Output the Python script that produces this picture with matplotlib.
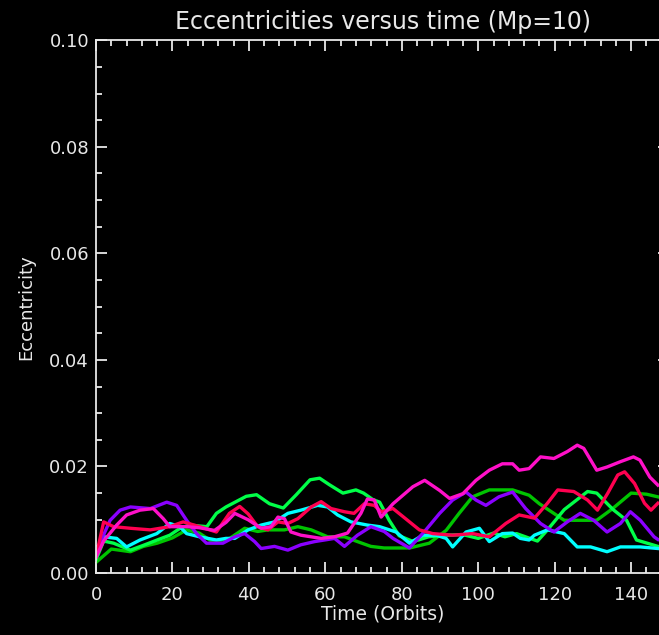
import matplotlib
matplotlib.use("Agg")
import matplotlib.pyplot as plt
from matplotlib.ticker import MultipleLocator

# values (time in orbits, eccentricity)
t_dkgreen = [0, 4, 9, 12.4, 16, 20, 23.7, 27, 30.6, 35, 38.9, 42.3, 45, 49.3, 52.8, 56.3,
             60.6, 65, 68.4, 71.9, 75.4, 82, 87.2, 91.6, 95, 98.5, 102.9, 109, 113.3, 116,
             122.5, 131, 135, 140, 144, 147]
e_dkgreen = [0.002, 0.0045, 0.004, 0.005, 0.0056, 0.0066, 0.0081, 0.0075, 0.0058, 0.0065,
             0.0084, 0.0078, 0.0081, 0.0081, 0.0087, 0.0081, 0.0068, 0.0068, 0.0059, 0.005,
             0.0047, 0.0047, 0.0056, 0.008, 0.0112, 0.0143, 0.0156, 0.0156, 0.0146, 0.013,
             0.0099, 0.0099, 0.012, 0.015, 0.0148, 0.0143]

t_green = [0, 2, 4.6, 9, 12.4, 16, 19.3, 22, 24.5, 29, 31.5, 34, 39.3, 42, 45.4, 49, 52.4,
           56, 58.5, 61, 64.6, 68, 70, 72.4, 74.2, 76.7, 79.3, 83, 87, 91.6, 96, 100, 104,
           107, 110, 115.5, 118, 122.5, 128.6, 131, 135.3, 138.8, 141.4, 147]
e_green = [0.0025, 0.006, 0.0056, 0.0043, 0.0052, 0.0062, 0.0071, 0.0084, 0.009, 0.0087,
           0.0112, 0.0124, 0.0144, 0.0147, 0.013, 0.0122, 0.0147, 0.0175, 0.0178, 0.0166,
           0.015, 0.0156, 0.015, 0.0138, 0.0133, 0.0099, 0.007, 0.0059, 0.0068, 0.0071,
           0.0072, 0.0065, 0.0075, 0.0068, 0.0074, 0.006, 0.008, 0.0119, 0.0153, 0.015,
           0.0119, 0.0099, 0.0062, 0.005]

t_cyan = [0, 2, 5.4, 8, 11.5, 15.9, 19.3, 21.9, 23.7, 27.1, 31.5, 34, 36.3, 39.8, 43.2,
          46.7, 50.2, 53.6, 58, 60.6, 63.2, 66.7, 71, 74.2, 78.5, 82, 85.5, 89, 91.6, 93.3,
          96.8, 100.3, 102.9, 106.3, 109, 111, 113.3, 114.7, 118.1, 122.5, 125.9, 129.4,
          133.7, 137.2, 142.4, 147]
e_cyan = [0.003, 0.0068, 0.0065, 0.0049, 0.0062, 0.0074, 0.0093, 0.0087, 0.0074, 0.0068,
          0.0062, 0.0065, 0.0065, 0.0081, 0.009, 0.0096, 0.0112, 0.0118, 0.0127, 0.0124,
          0.0109, 0.0096, 0.009, 0.0087, 0.0077, 0.0056, 0.0071, 0.0071, 0.0065, 0.0049,
          0.0077, 0.0084, 0.0059, 0.0074, 0.0075, 0.0065, 0.0062, 0.0071, 0.0081, 0.0074,
          0.0049, 0.0049, 0.004, 0.0049, 0.0049, 0.0046]

t_purple = [0, 3.7, 6.3, 9, 14.2, 18.5, 21.1, 23.7, 26.3, 28.9, 33.2, 36.3, 38.9, 41.5,
            43.2, 46.7, 50.2, 53.6, 57.2, 62.4, 65, 68.4, 71.9, 75.4, 77.7, 82, 86.3, 89.9,
            93.3, 96.8, 99.4, 102, 105.4, 109, 112.4, 116.3, 119.8, 123.3, 126.7, 130.2,
            133.7, 137.2, 139.8, 142.4, 146, 147]
e_purple = [0.004, 0.0099, 0.0118, 0.0124, 0.0121, 0.0133, 0.0127, 0.0099, 0.0074, 0.0056,
            0.0056, 0.0068, 0.0074, 0.0059, 0.0046, 0.005, 0.0043, 0.0053, 0.0059, 0.0065,
            0.005, 0.0071, 0.0087, 0.0078, 0.0065, 0.0047, 0.0081, 0.0112, 0.0137, 0.0152,
            0.0137, 0.0127, 0.0143, 0.0152, 0.0121, 0.0093, 0.0077, 0.0096, 0.0112, 0.0099,
            0.0077, 0.0093, 0.0115, 0.0099, 0.0068, 0.0063]

t_red = [0, 2, 4.6, 9, 14.2, 19.3, 22.8, 27.1, 31.5, 34.9, 37.6, 39.8, 42.3, 45, 47.6, 50.2,
         52.8, 56.3, 58.9, 61.5, 65, 67.5, 70.2, 72.8, 74.6, 77.7, 80.3, 84.6, 88.1, 93.3,
         98.5, 102.9, 107.2, 110.7, 114.7, 118.1, 120.8, 125, 128.6, 131.2, 133.9, 136.5,
         138.3, 140.9, 143.5, 145.2, 147]
e_red = [0.003, 0.0096, 0.0087, 0.0084, 0.0081, 0.0087, 0.0096, 0.0087, 0.0077, 0.0112,
         0.0125, 0.0111, 0.0087, 0.0081, 0.0096, 0.0093, 0.0102, 0.0124, 0.0134, 0.0121,
         0.0115, 0.0112, 0.013, 0.0127, 0.0115, 0.0121, 0.0106, 0.0081, 0.0074, 0.0071,
         0.0074, 0.0068, 0.0093, 0.0109, 0.0103, 0.0131, 0.0156, 0.0153, 0.0137, 0.0118,
         0.015, 0.0184, 0.019, 0.0168, 0.0131, 0.0118, 0.0131]

t_magenta = [0, 2, 5.4, 8, 11.5, 15, 17.6, 19.3, 23.7, 27, 31, 34, 36.3, 39.8, 43.2, 45.8,
             47.6, 49.3, 51, 53.6, 58.9, 62.4, 65.8, 69.3, 71, 72.8, 74.6, 77.7, 82.9, 86,
             89.9, 92.5, 96, 99.4, 102.9, 106.3, 109, 110.7, 113.3, 116.3, 119.8, 123.3,
             125.9, 127.6, 131, 133.7, 137.2, 140.6, 142.3, 144.9, 147]
e_magenta = [0.003, 0.006, 0.009, 0.0109, 0.0118, 0.0121, 0.0102, 0.0087, 0.0087, 0.0085,
             0.008, 0.0095, 0.0112, 0.01, 0.0084, 0.0087, 0.0105, 0.0102, 0.0077, 0.0071,
             0.0065, 0.0068, 0.0075, 0.0112, 0.0139, 0.0137, 0.0105, 0.013, 0.0162, 0.0174,
             0.0155, 0.014, 0.0149, 0.0174, 0.0193, 0.0205, 0.0205, 0.0193, 0.0196, 0.0218,
             0.0215, 0.0228, 0.024, 0.0234, 0.0193, 0.0199, 0.0209, 0.0218, 0.0212, 0.018,
             0.0165]

series = [
    (t_dkgreen, e_dkgreen, "#00c400"),
    (t_green, e_green, "#00ff48"),
    (t_cyan, e_cyan, "#00ffff"),
    (t_purple, e_purple, "#8a00ff"),
    (t_red, e_red, "#ff0050"),
    (t_magenta, e_magenta, "#ff10c8"),
]

fg = "#e8e8e8"
fig = plt.figure(figsize=(6.59, 6.35), dpi=100, facecolor="black")
ax = fig.add_axes([0.1457, 0.0976, 0.87, 0.839], facecolor="black")

for t, e, c in series:
    ax.plot(t, e, color=c, linewidth=2.4, solid_joinstyle="round")

ax.set_xlim(0, 150)
ax.set_ylim(0, 0.10)
ax.xaxis.set_major_locator(MultipleLocator(20))
ax.xaxis.set_minor_locator(MultipleLocator(4))
ax.yaxis.set_major_locator(MultipleLocator(0.02))
ax.yaxis.set_minor_locator(MultipleLocator(0.005))
ax.yaxis.set_major_formatter(lambda v, p: f"{v:.2f}")

for s in ax.spines.values():
    s.set_color(fg)
    s.set_linewidth(1.3)

ax.tick_params(which="both", direction="in", colors=fg, top=True, right=True,
               labelsize=13, width=1.3)
ax.tick_params(which="major", length=8)
ax.tick_params(which="minor", length=4)
ax.tick_params(axis="x", pad=9)
ax.tick_params(axis="y", pad=5)

ax.set_title("Eccentricities versus time (Mp=10)", color=fg, fontsize=17, pad=8)
ax.set_xlabel("Time (Orbits)", color=fg, fontsize=13.5, labelpad=1)
ax.set_ylabel("Eccentricity", color=fg, fontsize=13, labelpad=10)

fig.savefig("out.png", dpi=100, facecolor="black")
